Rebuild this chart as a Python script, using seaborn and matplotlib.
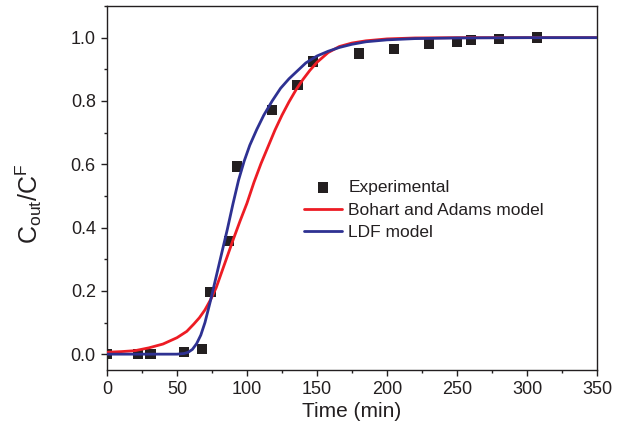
import matplotlib
matplotlib.use("Agg")
import matplotlib.pyplot as plt
from matplotlib.ticker import MultipleLocator
import seaborn as sns
import pandas as pd

# Experimental data
exp_time = [0, 22, 31, 55, 68, 74, 87, 93, 118, 136, 147, 180, 205, 230, 250, 260, 280, 307]
exp_ratio = [0.0, 0.0, 0.0, 0.007, 0.016, 0.197, 0.357, 0.593, 0.771, 0.850, 0.925,
             0.950, 0.965, 0.979, 0.986, 0.992, 0.995, 1.0]

# Bohart and Adams model curve
ba_time = [0, 10, 20, 30, 40, 50, 57, 62, 66, 70, 74, 78, 82, 86, 90, 95, 100, 105, 110,
           115, 120, 125, 130, 135, 140, 145, 150, 158, 166, 175, 185, 200, 220, 250, 300, 350]
ba_ratio = [0.006, 0.008, 0.011, 0.020, 0.032, 0.052, 0.072, 0.095, 0.115, 0.140, 0.172,
            0.210, 0.260, 0.310, 0.360, 0.420, 0.477, 0.543, 0.602, 0.655, 0.708, 0.755,
            0.797, 0.835, 0.868, 0.897, 0.922, 0.953, 0.972, 0.983, 0.990, 0.996, 0.999,
            1.0, 1.0, 1.0]

# LDF model curve
ldf_time = [0, 20, 40, 50, 55, 58, 61, 64, 67, 70, 74, 78, 82, 86, 90, 94, 98, 102, 107,
            112, 118, 124, 130, 136, 142, 150, 158, 166, 175, 185, 200, 220, 250, 300, 350]
ldf_ratio = [0.0, 0.0, 0.0, 0.0, 0.002, 0.006, 0.015, 0.033, 0.060, 0.100, 0.170, 0.245,
             0.320, 0.395, 0.475, 0.550, 0.610, 0.660, 0.710, 0.755, 0.800, 0.840, 0.870,
             0.895, 0.920, 0.942, 0.957, 0.969, 0.979, 0.987, 0.993, 0.997, 0.999, 1.0, 1.0]

labels = ["Experimental", "Bohart and Adams model", "LDF model"]

sns.set_theme(style="ticks")
plt.rcParams["font.family"] = ["Liberation Sans", "DejaVu Sans"]
plt.rcParams["mathtext.fontset"] = "custom"
plt.rcParams["mathtext.rm"] = "Liberation Sans"
plt.rcParams["mathtext.it"] = "Liberation Sans:italic"
plt.rcParams["mathtext.bf"] = "Liberation Sans:bold"

TXT = "#231f20"
RED = "#ed1c24"
BLUE = "#2e3192"

fig = plt.figure(figsize=(6.18, 4.44), dpi=100)
ax = fig.add_axes([0.1731, 0.1667, 0.7929, 0.8198])

df_exp = pd.DataFrame({"t": exp_time, "c": exp_ratio})
df_ba = pd.DataFrame({"t": ba_time, "c": ba_ratio})
df_ldf = pd.DataFrame({"t": ldf_time, "c": ldf_ratio})

sns.scatterplot(data=df_exp, x="t", y="c", ax=ax, marker="s", s=55, color=TXT,
                edgecolor="none", linewidth=0, zorder=2, label=labels[0])
sns.lineplot(data=df_ba, x="t", y="c", ax=ax, color=RED, linewidth=2.0, sort=False,
             errorbar=None, zorder=3, label=labels[1])
sns.lineplot(data=df_ldf, x="t", y="c", ax=ax, color=BLUE, linewidth=2.0, sort=False,
             errorbar=None, zorder=4, label=labels[2])

ax.set_xlim(0, 350)
ax.set_ylim(-0.05, 1.1)
ax.xaxis.set_major_locator(MultipleLocator(50))
ax.xaxis.set_minor_locator(MultipleLocator(25))
ax.yaxis.set_major_locator(MultipleLocator(0.2))
ax.yaxis.set_minor_locator(MultipleLocator(0.1))
ax.set_yticks([0.0, 0.2, 0.4, 0.6, 0.8, 1.0])
ax.set_yticklabels(["0.0", "0.2", "0.4", "0.6", "0.8", "1.0"])

ax.tick_params(axis="both", which="major", direction="out", length=4, width=1,
               labelsize=13, colors=TXT, pad=4)
ax.tick_params(axis="both", which="minor", direction="out", length=2.5, width=1,
               colors=TXT)
for sp in ax.spines.values():
    sp.set_visible(True)
    sp.set_color(TXT)
    sp.set_linewidth(1.0)

ax.set_xlabel("Time (min)", fontsize=15, color=TXT, labelpad=3)
ax.set_ylabel("")
fig.text(29 / 618, 1 - 204 / 444, r"C$_{\mathrm{out}}$/C$^{\mathrm{F}}$",
         rotation=90, ha="center", va="center", fontsize=18, color=TXT)

handles, hl = ax.get_legend_handles_labels()
leg = ax.legend(handles, hl, loc="upper left", bbox_to_anchor=(304 / 618, 1 - 180 / 444),
                bbox_transform=fig.transFigure, frameon=False, fontsize=12.5,
                handlelength=2.2, handletextpad=0.35, labelspacing=0.42,
                borderaxespad=0, borderpad=0)
for t in leg.get_texts():
    t.set_color(TXT)

fig.savefig("out.png", dpi=100)
